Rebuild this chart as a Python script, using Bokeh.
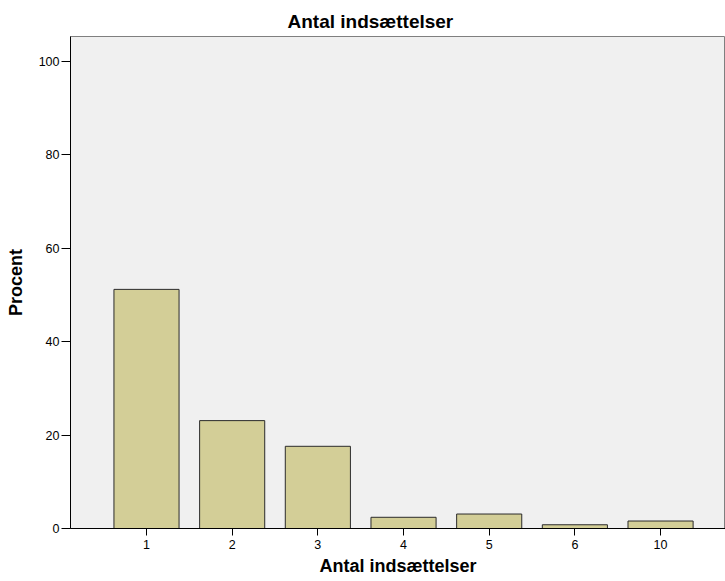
from bokeh.plotting import figure
from bokeh.models import ColumnDataSource, Range1d, FixedTicker
from bokeh.embed import file_html
from bokeh.resources import INLINE

categories = ["1", "2", "3", "4", "5", "6", "10"]
percent = [51.2, 23.1, 17.6, 2.4, 3.1, 0.8, 1.6]
y_ticks = [0, 20, 40, 60, 80, 100]

positions = list(range(len(categories)))
src = ColumnDataSource(dict(x=positions, top=percent, cat=categories))

FONT = "Liberation Sans"

p = figure(width=725, height=581, output_backend="svg", toolbar_location=None,
           x_range=Range1d(-0.887, 6.758), y_range=Range1d(0, 105.35),
           min_border_left=70, min_border_right=0, min_border_top=36, min_border_bottom=53)

p.vbar(x="x", top="top", width=0.76, bottom=0, source=src,
       fill_color="#d3ce97", line_color="#2b2b2b", line_width=1)

p.title.text = "Antal indsættelser"
p.title.align = "left"
p.title.offset = 217
p.title.text_font = FONT
p.title.text_font_size = "19px"
p.title.text_font_style = "bold"
p.title.text_color = "#000000"

p.background_fill_color = "#f0f0f0"
p.border_fill_color = "#ffffff"
p.outline_line_color = "#7f7f7f"
p.outline_line_width = 1
p.xgrid.grid_line_color = None
p.ygrid.grid_line_color = None

p.xaxis.ticker = FixedTicker(ticks=positions)
p.xaxis.major_label_overrides = {i: c for i, c in zip(positions, categories)}
p.yaxis.ticker = FixedTicker(ticks=y_ticks)

for ax in (p.xaxis[0], p.yaxis[0]):
    ax.axis_line_color = "#000000"
    ax.axis_line_width = 1
    ax.major_tick_line_color = "#000000"
    ax.major_tick_in = 0
    ax.minor_tick_line_color = None
    ax.major_label_text_font = FONT
    ax.major_label_text_font_size = "12.5px"
    ax.major_label_text_color = "#000000"
    ax.axis_label_text_font = FONT
    ax.axis_label_text_font_size = "18px"
    ax.axis_label_text_font_style = "bold"
    ax.axis_label_text_color = "#000000"

p.xaxis.major_tick_out = 7
p.yaxis.major_tick_out = 9
p.xaxis.axis_label = "Antal indsættelser"
p.yaxis.axis_label = "Procent"
p.xaxis.axis_label_standoff = 4
p.yaxis.axis_label_standoff = 10
p.yaxis.major_label_standoff = 2
p.xaxis.major_label_standoff = 4

open("out.html", "w").write(file_html(p, INLINE))
